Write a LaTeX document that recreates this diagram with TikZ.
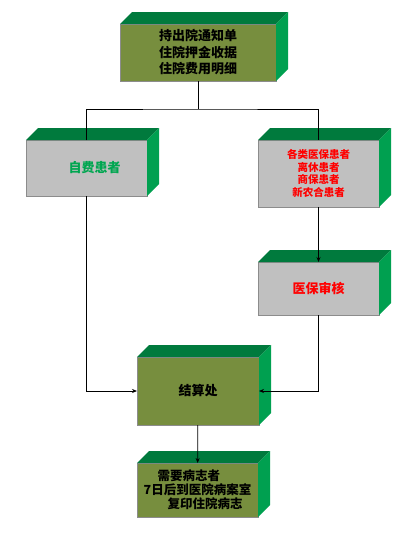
\documentclass[tikz,border=0pt]{standalone}
\usepackage{fontspec}
\newfontfamily\cjk{Noto Sans CJK SC}
\usepackage{tikz}
\usetikzlibrary{arrows.meta,calc}
\definecolor{olivefront}{RGB}{119, 142, 62}
\definecolor{greytop}{RGB}{192, 192, 192}
\definecolor{deepgreen}{RGB}{0, 122, 61}
\definecolor{sidegreen}{RGB}{0, 160, 80}
\definecolor{notegreen}{RGB}{0, 166, 80}

\begin{document}
\begin{tikzpicture}[x=1pt, y=-1pt,
    blk/.style={rectangle, fill=#1, draw=black!45, line width=0.4pt,
                inner sep=2pt, outer sep=0pt, align=center,
                font=\cjk\bfseries\fontsize{13}{16.5}\selectfont},
    blk/.default=olivefront,
    link/.style={line width=0.8pt, black},
    tip/.style={link, -{Stealth[length=5pt, width=4pt]}}
]
\useasboundingbox (0,0) rectangle (413,533);
\fill[white] (0,0) rectangle (413,533);

% front faces
\node[blk, minimum width=156pt, minimum height=57pt] (notice) at (198,52.5)
  {持出院通知单\\住院押金收据\\住院费用明细};
\node[blk=greytop, minimum width=121pt, minimum height=56pt,
      text=notegreen] (selfpay) at (86.5,168) {\hspace*{16pt}自费患者};
\node[blk=greytop, minimum width=121pt, minimum height=67pt, text=red,
      font=\cjk\bfseries\fontsize{10.5}{12.8}\selectfont] (insured) at (318.5,173.5)
  {各类医保患者\\离休患者\\商保患者\\新农合患者};
\node[blk=greytop, minimum width=121pt, minimum height=53pt,
      text=red] (audit) at (318.5,288.5) {医保审核};
\node[blk, minimum width=122pt, minimum height=68pt] (cashier) at (198,391) {结算处};
\node[blk, minimum width=121pt, minimum height=54pt, align=left,
      font=\cjk\bfseries\fontsize{12.5}{14}\selectfont] (records) at (197.5,490)
  {\hspace*{14pt}需要病志者\\7日后到医院病案室\\\hspace*{24pt}复印住院病志};

% depth faces
\foreach \n in {notice,selfpay,insured,audit,cashier,records} {
  \fill[deepgreen] (\n.north west) -- ++(12,-12)
    -- ($(\n.north east)+(12,-12)$) -- (\n.north east) -- cycle;
  \fill[sidegreen] (\n.north east) -- ++(12,-12)
    -- ($(\n.south east)+(12,-12)$) -- (\n.south east) -- cycle;
}

% connectors
\coordinate (split) at (198,109);
\draw[link] (notice) -- (split);
\draw[link] (selfpay.north) |- (split) -| (insured.north);
\draw[tip] (insured) -- (audit);
\draw[tip] (selfpay.south) |- (cashier.west);
\draw[tip] (audit.south) |- (cashier.east);
\draw[tip] (cashier) -- (records);
\end{tikzpicture}
\end{document}
